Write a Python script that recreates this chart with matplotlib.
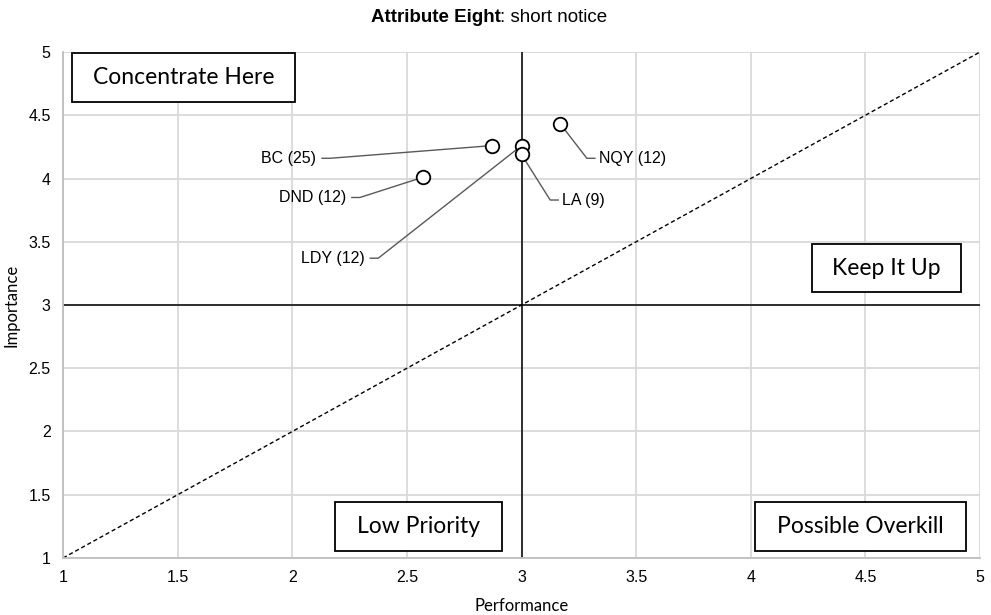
import numpy as np
import matplotlib.pyplot as plt
from matplotlib.patches import Rectangle

# segment scores
labels = ['BC (25)', 'DND (12)', 'LDY (12)', 'LA (9)', 'NQY (12)']
performance = [2.87, 2.57, 3.0, 3.0, 3.17]
importance = [4.26, 4.01, 4.26, 4.19, 4.43]

# where each data label sits and which side the leader comes from
label_x = [2.13, 2.26, 2.34, 3.16, 3.32]
label_y = [4.16, 3.85, 3.37, 3.83, 4.16]
label_side = ['left', 'left', 'left', 'right', 'right']

quadrants = ['Concentrate Here', 'Keep It Up', 'Low Priority', 'Possible Overkill']

text_font = ['Liberation Sans', 'DejaVu Sans']
box_font = ['Lato', 'DejaVu Sans']

fig = plt.figure(figsize=(9.91, 6.15), dpi=100)
ax = fig.add_axes([0.0636, 0.0927, 0.9253, 0.8227])

ax.set_xlim(1, 5)
ax.set_ylim(1, 5)
ticks = np.arange(1, 5.01, 0.5)
ax.set_xticks(ticks)
ax.set_yticks(ticks)
ax.set_xticklabels(['%g' % t for t in ticks], fontfamily=text_font, fontsize=11.5)
ax.set_yticklabels(['%g' % t for t in ticks], fontfamily=text_font, fontsize=11.5)
ax.tick_params(length=0, pad=9)
ax.grid(True, color='#d9d9d9', linewidth=1.3)
ax.set_axisbelow(True)
for s in ['top', 'right']:
    ax.spines[s].set_visible(False)
for s in ['left', 'bottom']:
    ax.spines[s].set_color('#bfbfbf')
    ax.spines[s].set_linewidth(1.3)

# quadrant dividers and the diagonal
ax.axvline(3, color='black', linewidth=1.1, zorder=2)
ax.axhline(3, color='black', linewidth=1.1, zorder=2)
ax.plot([1, 5], [1, 5], color='black', linestyle=(0, (3, 2)), linewidth=1.0, zorder=2)

# leader lines with a short horizontal stub next to the label
stub = 0.035
for px, py, lx, ly, side in zip(performance, importance, label_x, label_y, label_side):
    ex = lx + stub if side == 'left' else lx - stub
    ax.plot([px, ex, lx], [py, ly, ly], color='#595959', linewidth=1.0, zorder=3)

ax.scatter(performance, importance, s=95, facecolor='white', edgecolor='black',
           linewidth=1.3, zorder=4)

for name, lx, ly, side in zip(labels, label_x, label_y, label_side):
    if side == 'left':
        ax.text(lx - 0.025, ly, name, ha='right', va='center', fontsize=11.5,
                fontfamily=text_font, zorder=5)
    else:
        ax.text(lx + 0.018, ly, name, ha='left', va='center', fontsize=11.5,
                fontfamily=text_font, zorder=5)

# quadrant boxes
boxes = [(1.039, 4.605, 0.973, 0.385),
         (4.267, 3.103, 0.650, 0.379),
         (2.186, 1.055, 0.729, 0.388),
         (4.018, 1.055, 0.921, 0.388)]
for name, (bx, by, bw, bh) in zip(quadrants, boxes):
    ax.add_patch(Rectangle((bx, by), bw, bh, facecolor='white', edgecolor='black',
                           linewidth=1.3, zorder=5))
    ax.text(bx + bw / 2, by + bh / 2, name, ha='center', va='center',
            fontsize=16.5, fontfamily=box_font, zorder=6)

ax.set_xlabel('Performance', fontfamily=box_font, fontsize=12, labelpad=9)
ax.set_ylabel('Importance', fontfamily=box_font, fontsize=12, labelpad=6)

fig.text(0.505, 0.972, 'Attribute Eight', ha='right', va='center',
         fontsize=13.5, fontweight='bold', fontfamily=text_font)
fig.text(0.505, 0.972, ': short notice', ha='left', va='center',
         fontsize=13.5, fontfamily=text_font)

fig.savefig('out.png', dpi=100)
